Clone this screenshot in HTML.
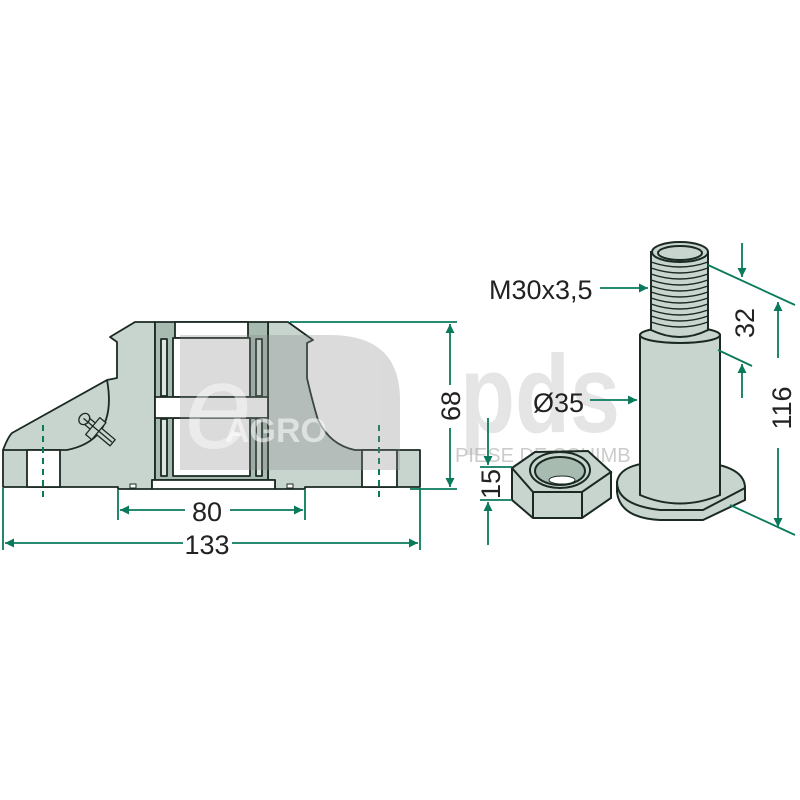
<!DOCTYPE html>
<html><head><meta charset="utf-8"><style>html,body{margin:0;padding:0;background:#fff}svg{display:block}</style></head>
<body>
<svg width="800" height="800" viewBox="0 0 800 800" xmlns="http://www.w3.org/2000/svg" font-family="Liberation Sans, sans-serif">
<defs>
<marker id="a" viewBox="0 0 10 10" refX="10" refY="5" markerWidth="15" markerHeight="9" orient="auto-start-reverse" markerUnits="userSpaceOnUse" >
<path d="M0,0L10,5L0,10z" fill="#0a7a5c"/></marker>
</defs>
<g stroke="#1a2a22" stroke-width="1.8" stroke-linejoin="round">
<path d="M135,322 L155,322 L155,480 L152,480 L152,489 L118,489 L118,487 L3,487 L3,450 Q8,437 12,433 L107,380 L117,378 L117,342 L110,337 Z" fill="#c8d5cf"/>
<path d="M107,380 Q118,440 67,450 L3,450" fill="none"/>
<rect x="27" y="450" width="33" height="37" fill="#fff"/>
<path d="M268,322 L288,322 L313,340 L307,343 L307,378 Q312,400 318,420 Q330,445 355,450 L420,450 L420,487 L305,487 L305,489 L275,489 L275,480 L268,480 Z" fill="#c8d5cf"/>
<rect x="362" y="450" width="35" height="37" fill="#fff"/>
<rect x="155" y="322" width="113" height="158" fill="#a7bbb1"/>
<rect x="175" y="322" width="73" height="16" fill="#fff"/>
<rect x="173" y="338" width="77" height="59" fill="#fff"/>
<rect x="173" y="418" width="77" height="58" fill="#fff"/>
<rect x="155" y="397" width="113" height="21" fill="#fff"/>
<rect x="161" y="339" width="6" height="57" fill="#dde6e1"/>
<rect x="256" y="339" width="6" height="57" fill="#dde6e1"/>
<rect x="161" y="419" width="6" height="57" fill="#dde6e1"/>
<rect x="256" y="419" width="6" height="57" fill="#dde6e1"/>
<rect x="152" y="480" width="123" height="9" fill="#fff"/>
<rect x="130" y="484" width="6" height="4" fill="#fff" stroke-width="1"/>
<rect x="287" y="484" width="6" height="4" fill="#fff" stroke-width="1"/>
<g transform="rotate(40 95 428)" fill="#c8d5cf" stroke-width="1.3"><rect x="80" y="424" width="38" height="8"/><ellipse cx="81" cy="428" rx="5" ry="6"/><rect x="92" y="417" width="8" height="22"/><line x1="80" y1="428" x2="117" y2="428"/></g>
</g>
<g stroke="#0a7a5c" stroke-width="2" stroke-dasharray="6 5"><line x1="43" y1="425" x2="43" y2="502"/><line x1="379" y1="425" x2="379" y2="502"/></g>
<g opacity="0.3">
<path d="M180,335 L330,335 Q400,335 400,400 L400,470 L180,470 Z" fill="#888"/>
<text x="460" y="432" font-size="110" font-weight="bold" fill="#aaa" textLength="160" lengthAdjust="spacingAndGlyphs">pds</text>
</g>
<text x="185" y="448" font-size="120" font-style="italic" fill="#fff" opacity="0.45">e</text>
<text x="225" y="442" font-size="34" font-weight="bold" fill="#fff" opacity="0.55">AGRO</text>
<text x="455" y="462" font-size="20" fill="#aaa" opacity="0.6">PIESE DE SCHIMB</text>
<g stroke="#0a7a5c" stroke-width="1.8" fill="none">
<line x1="3" y1="488" x2="3" y2="550"/><line x1="420" y1="488" x2="420" y2="550"/>
<line x1="118" y1="490" x2="118" y2="520"/><line x1="305" y1="490" x2="305" y2="520"/>
<line x1="120" y1="510" x2="185" y2="510" marker-start="url(#a)"/><line x1="230" y1="510" x2="303" y2="510" marker-end="url(#a)"/>
<line x1="5" y1="543" x2="183" y2="543" marker-start="url(#a)"/><line x1="232" y1="543" x2="418" y2="543" marker-end="url(#a)"/>
<line x1="290" y1="322" x2="457" y2="322"/><line x1="410" y1="489" x2="457" y2="489"/>
<line x1="450" y1="324" x2="450" y2="385" marker-start="url(#a)"/><line x1="450" y1="428" x2="450" y2="487" marker-end="url(#a)"/>
</g>
<g font-size="27" fill="#222">
<text x="207" y="521" text-anchor="middle">80</text>
<text x="207" y="554" text-anchor="middle">133</text>
<text transform="translate(460,406) rotate(-90)" text-anchor="middle">68</text>
<text x="489" y="299">M30x3,5</text>
<text x="533" y="412">Ø35</text>
<text transform="translate(754,323) rotate(-90)" text-anchor="middle">32</text>
<text transform="translate(791,408) rotate(-90)" text-anchor="middle">116</text>
<text transform="translate(500,484) rotate(-90)" text-anchor="middle">15</text>
</g>
<g stroke="#1a2a22" stroke-width="2" fill="#c8d5cf">
<path d="M617,482 L617,492 Q620,518 660,520 L703,520 L745,500 L745,488 Z"/>
<path d="M617,482 Q620,462 665,462 L700,462 Q745,466 745,488 L703,510 L660,510 Q617,505 617,482 Z"/>
<path d="M640,335 L640,495 Q680,512 720,495 L720,335 Z"/>
<ellipse cx="680" cy="335" rx="40" ry="8"/>
<path d="M651,252 L651,330 Q680,344 708,330 L708,252 Z"/>
<g fill="none" stroke-width="1.4">
<path d="M651,262 Q680,272 708,262"/><path d="M651,268 Q680,278 708,268"/><path d="M651,274 Q680,284 708,274"/><path d="M651,280 Q680,290 708,280"/><path d="M651,286 Q680,296 708,286"/><path d="M651,292 Q680,302 708,292"/><path d="M651,298 Q680,308 708,298"/><path d="M651,304 Q680,314 708,304"/><path d="M651,310 Q680,320 708,310"/><path d="M651,316 Q680,326 708,316"/><path d="M651,322 Q680,332 708,322"/>
</g>
<ellipse cx="680" cy="252" rx="28" ry="10"/>
<ellipse cx="680" cy="253" rx="22" ry="7"/>
<path d="M512,468 L512,500 L533,518 L582,518 L611,498 L611,472 Z"/>
<path d="M512,468 L535,452 L588,451 L611,472 L582,492 L533,492 Z"/>
<line x1="533" y1="492" x2="533" y2="518"/><line x1="582" y1="492" x2="582" y2="518"/>
<ellipse cx="560" cy="470" rx="30" ry="18" fill="#c8d5cf"/>
<ellipse cx="560" cy="471" rx="25" ry="14" fill="#a7bbb1"/>
<ellipse cx="562" cy="480" rx="13" ry="4" fill="#fff" stroke-width="1"/>
</g>
<g stroke="#0a7a5c" stroke-width="1.8" fill="none">
<line x1="600" y1="288" x2="648" y2="288" marker-end="url(#a)"/>
<line x1="590" y1="400" x2="637" y2="400" marker-end="url(#a)"/>
<line x1="708" y1="265" x2="795" y2="305"/>
<line x1="718" y1="350" x2="752" y2="366"/>
<line x1="730" y1="505" x2="795" y2="535"/>
<line x1="742" y1="243" x2="742" y2="277" marker-end="url(#a)"/>
<line x1="742" y1="398" x2="742" y2="364" marker-end="url(#a)"/>
<line x1="778" y1="358" x2="778" y2="302" marker-end="url(#a)"/>
<line x1="778" y1="448" x2="778" y2="527" marker-end="url(#a)"/>
<line x1="488" y1="418" x2="488" y2="465" marker-end="url(#a)"/>
<line x1="488" y1="545" x2="488" y2="502" marker-end="url(#a)"/>
<line x1="480" y1="467" x2="512" y2="467"/><line x1="480" y1="500" x2="512" y2="500"/>
</g>
</svg>
</body></html>
